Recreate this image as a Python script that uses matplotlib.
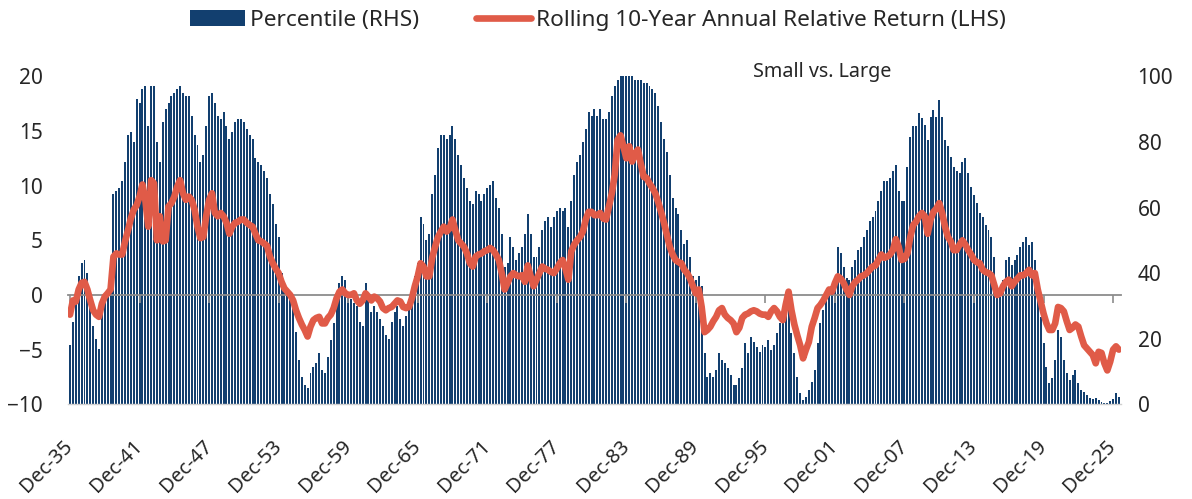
import numpy as np
import matplotlib
matplotlib.use("Agg")
import matplotlib.pyplot as plt
from matplotlib.lines import Line2D
from matplotlib.patches import Patch

plt.rcParams['font.family'] = ['Noto Sans', 'DejaVu Sans']

# ---------------- data (quarterly readings, Dec-35 .. Jun-26) ----------------
start_year = 1935 + 11 / 12   # Dec-1935
step_years = 0.25

rel_return = [
    -1.8,
    -0.5, -0.6, 0.5, 1.1,      # 1936
    1.2, 0.5, -0.5, -1.4,      # 1937
    -1.8, -2.0, -0.8, -0.15,   # 1938
    0.15, 0.5, 3.5, 3.8,       # 1939
    3.7, 3.7, 4.9, 5.9,        # 1940
    7.0, 7.8, 8.2, 9.0,        # 1941
    10.1, 8.7, 6.25, 10.5,     # 1942
    10.2, 5.0, 7.2, 4.9,       # 1943
    5.0, 8.1, 8.4, 9.0,        # 1944
    9.9, 10.5, 9.3, 8.7,       # 1945
    9.0, 8.7, 7.8, 6.25,       # 1946
    5.2, 5.3, 7.2, 8.7,        # 1947
    9.3, 7.5, 7.2, 7.5,        # 1948
    7.2, 6.6, 5.6, 6.25,       # 1949
    6.6, 6.7, 6.9, 6.9,        # 1950
    6.6, 6.4, 6.25, 5.6,       # 1951
    5.0, 4.9, 4.7, 4.5,        # 1952
    3.5, 2.9, 2.4, 2.0,        # 1953
    1.2, 0.6, 0.3, 0.0,        # 1954
    -0.5, -1.4, -2.1, -2.7,    # 1955
    -3.2, -3.8, -2.9, -2.3,    # 1956
    -2.1, -2.0, -2.6, -2.6,    # 1957
    -2.1, -1.8, -1.2, -0.3,    # 1958
    0.3, 0.5, 0.15, 0.0,       # 1959
    0.0, 0.15, -0.5, -0.8,     # 1960
    -0.5, 0.15, -0.15, -0.5,   # 1961
    -0.15, -0.3, -0.6, -1.2,   # 1962
    -1.4, -1.2, -1.1, -0.8,    # 1963
    -0.5, -0.6, -1.1, -1.2,    # 1964
    -1.1, -0.3, 0.8, 1.7,      # 1965
    2.9, 2.6, 1.7, 1.7,        # 1966
    3.4, 4.4, 5.3, 5.8,        # 1967
    6.25, 5.8, 6.1, 6.9,       # 1968
    5.9, 5.0, 4.7, 4.4,        # 1969
    3.8, 2.9, 2.6, 3.5,        # 1970
    3.7, 3.8, 4.0, 4.1,        # 1971
    4.3, 4.1, 3.7, 3.2,        # 1972
    2.0, 0.5, 1.1, 1.7,        # 1973
    2.0, 1.8, 1.7, 1.8,        # 1974
    1.2, 2.7, 1.7, 0.8,        # 1975
    1.4, 2.0, 2.6, 2.4,        # 1976
    2.3, 2.1, 2.0, 2.4,        # 1977
    2.9, 3.2, 2.4, 1.4,        # 1978
    4.0, 4.6, 5.0, 5.3,        # 1979
    5.8, 6.9, 7.6, 7.6,        # 1980
    7.3, 7.3, 7.5, 7.0,        # 1981
    6.9, 8.1, 9.3, 11.0,       # 1982
    14.2, 14.6, 13.6, 12.5,    # 1983
    13.6, 12.2, 12.9, 13.3,    # 1984
    12.0, 10.8, 10.7, 10.2,    # 1985
    9.8, 9.3, 8.5, 7.6,        # 1986
    6.6, 5.5, 4.4, 3.7,        # 1987
    3.2, 3.0, 2.9, 2.3,        # 1988
    2.0, 1.5, 0.8, 0.15,       # 1989
    0.5, -1.1, -3.4, -3.2,     # 1990
    -2.9, -2.4, -2.0, -1.4,    # 1991
    -1.2, -1.8, -2.1, -2.3,    # 1992
    -2.6, -3.4, -3.0, -2.1,    # 1993
    -1.8, -1.7, -1.5, -1.4,    # 1994
    -1.5, -1.7, -1.8, -1.8,    # 1995
    -2.0, -1.5, -1.2, -1.5,    # 1996
    -2.0, -2.3, -0.9, 0.3,     # 1997
    -1.4, -2.7, -3.7, -4.6,    # 1998
    -5.8, -5.0, -4.3, -2.9,    # 1999
    -2.1, -1.2, -0.9, -0.5,    # 2000
    0.0, 0.5, 0.3, 1.1,        # 2001
    1.7, 1.5, 1.1, 0.5,        # 2002
    0.0, 0.8, 1.2, 1.4,        # 2003
    1.7, 1.8, 2.0, 2.3,        # 2004
    2.6, 2.7, 3.2, 3.7,        # 2005
    3.4, 3.5, 3.7, 4.1,        # 2006
    5.1, 4.4, 3.2, 3.3,        # 2007
    3.8, 5.3, 6.4, 6.7,        # 2008
    7.2, 7.5, 7.2, 5.6,        # 2009
    6.9, 7.6, 7.9, 8.4,        # 2010
    7.5, 6.25, 5.3, 4.9,       # 2011
    4.1, 4.1, 4.6, 5.0,        # 2012
    4.6, 4.1, 3.7, 3.2,        # 2013
    3.0, 2.9, 2.3, 2.1,        # 2014
    2.0, 1.8, 0.9, 0.0,        # 2015
    0.15, 0.8, 1.2, 1.4,       # 2016
    0.8, 1.2, 1.5, 1.8,        # 2017
    1.8, 2.0, 2.3, 1.8,        # 2018
    2.0, 0.5, -0.6, -1.7,      # 2019
    -2.6, -3.2, -3.2, -2.6,    # 2020
    -1.1, -1.2, -1.5, -2.4,    # 2021
    -3.2, -3.0, -2.7, -2.9,    # 2022
    -3.8, -4.6, -4.9, -5.2,    # 2023
    -5.5, -6.25, -5.2, -5.3,   # 2024
    -6.25, -6.9, -6.1, -5.0,   # 2025
    -4.7, -5.0,                # 2026
]

percentile = [
    18,
    25, 32, 39, 43,            # 1936
    44, 40, 32, 24,            # 1937
    20, 17, 28, 32,            # 1938
    33, 34, 64, 65,            # 1939
    66, 68, 74, 82,            # 1940
    83, 80, 93, 92,            # 1941
    96, 97, 85, 97,            # 1942
    97, 80, 74, 86,            # 1943
    90, 92, 94, 95,            # 1944
    96, 97, 95, 94,            # 1945
    94, 88, 82, 79,            # 1946
    74, 76, 85, 94,            # 1947
    95, 92, 88, 87,            # 1948
    89, 85, 81, 83,            # 1949
    86, 87, 87, 86,            # 1950
    84, 82, 81, 75,            # 1951
    74, 73, 71, 69,            # 1952
    64, 61, 55, 51,            # 1953
    40, 36, 34, 32,            # 1954
    30, 22, 13.5, 8.4,         # 1955
    6, 5, 9.5, 11.5,           # 1956
    12.5, 15.5, 10.5, 9.5,     # 1957
    14.5, 19.6, 24.7, 33.8,    # 1958
    37, 39, 38, 34,            # 1959
    32, 31, 30, 25,            # 1960
    24, 37, 32, 28,            # 1961
    30, 28, 26, 24,            # 1962
    21, 20, 25, 28,            # 1963
    30, 26, 24, 27,            # 1964
    30, 32, 39, 43,            # 1965
    57, 55, 50, 52,            # 1966
    64, 70, 78, 82,            # 1967
    82, 81, 82, 85,            # 1968
    81, 76, 73, 69,            # 1969
    66, 62, 61, 65,            # 1970
    64, 62, 64, 66,            # 1971
    67, 68, 63, 60,            # 1972
    52, 42, 43, 51,            # 1973
    48, 44, 46, 48,            # 1974
    52, 58, 52, 45,            # 1975
    45, 48, 53, 56,            # 1976
    57, 54, 57, 59,            # 1977
    60, 59, 60, 54,            # 1978
    62, 70, 74, 76,            # 1979
    80, 84, 89, 88,            # 1980
    90, 88, 90, 87,            # 1981
    87, 89, 94, 97,            # 1982
    99, 100, 100, 100,         # 1983
    100, 100, 99, 99,          # 1984
    99, 98, 98, 97,            # 1985
    96, 95, 91, 86,            # 1986
    81, 77, 70, 63,            # 1987
    60, 58, 53, 49,            # 1988
    50, 45, 39, 38,            # 1989
    39, 36, 15.5, 8.4,         # 1990
    9.5, 8.4, 10.5, 15.5,      # 1991
    13.5, 12.5, 11, 9,         # 1992
    6, 6, 8, 11,               # 1993
    18.6, 15.5, 20.6, 19,      # 1994
    17.6, 16, 18, 17.6,        # 1995
    19.6, 16.6, 18, 21.6,      # 1996
    24.7, 27.7, 32.8, 35,      # 1997
    21.6, 15.5, 8.4, 3.4,      # 1998
    1.3, 2.3, 4.4, 6.9,        # 1999
    10.5, 18.6, 24.7, 28.8,    # 2000
    31.8, 33.8, 35.9, 37.9,    # 2001
    48, 46, 42, 38.4,          # 2002
    38, 42, 44, 47,            # 2003
    48, 51, 53, 56,            # 2004
    57, 59, 62, 65,            # 2005
    68, 68, 69, 71,            # 2006
    73, 65, 62, 62,            # 2007
    72.5, 81.6, 84.7, 84.7,    # 2008
    88.7, 87.2, 85.2, 80.6,    # 2009
    87.7, 89.7, 87.7, 92.8,    # 2010
    87.7, 80.6, 78.6, 75.5,    # 2011
    72.5, 71, 70.4, 74,        # 2012
    75, 70.4, 66.4, 63.8,      # 2013
    61.3, 58.2, 57.2, 54.7,    # 2014
    53.2, 51.1, 45, 33.8,      # 2015
    32.8, 37.9, 44, 45,        # 2016
    42.5, 44, 45.5, 48,        # 2017
    49.6, 51.1, 48.6, 49.6,    # 2018
    44, 33.8, 26.7, 18.6,      # 2019
    11.5, 6.4, 7.9, 13.5,      # 2020
    22.7, 20.6, 13.5, 9.5,     # 2021
    7.4, 8.9, 10.5, 6.4,       # 2022
    4.4, 3.9, 2.8, 1.8,        # 2023
    1.5, 1.8, 1.3, 0.8,        # 2024
    0.3, 0.5, 1.1, 1.5,        # 2025
    3.4, 2.3,                  # 2026
]

tick_labels = ['Dec-35', 'Dec-41', 'Dec-47', 'Dec-53', 'Dec-59', 'Dec-65',
               'Dec-71', 'Dec-77', 'Dec-83', 'Dec-89', 'Dec-95', 'Dec-01',
               'Dec-07', 'Dec-13', 'Dec-19', 'Dec-25']
tick_step_years = 6

left_ticks = [-10, -5, 0, 5, 10, 15, 20]
right_ticks = [0, 20, 40, 60, 80, 100]

series_labels = ['Percentile (RHS)', 'Rolling 10-Year Annual Relative Return (LHS)']
subtitle = 'Small vs. Large'

# ---------------- styling ----------------
NAVY = '#123f6f'
RED = '#e05b48'
GRID_GREY = '#8c8c8c'
TEXT = '#262626'

dates = start_year + step_years * np.arange(len(rel_return))
tick_pos = start_year + tick_step_years * np.arange(len(tick_labels))

W, H = 1192, 499
fig = plt.figure(figsize=(W / 100, H / 100), dpi=100)
ax = fig.add_axes([68 / W, (H - 404.3) / H, 1053 / W, 328 / H])
ax2 = ax.twinx()
ax.set_zorder(ax2.get_zorder() + 1)
ax.patch.set_visible(False)

# bars (percentile, right axis)
ax2.bar(dates, percentile, width=0.17, color=NAVY, linewidth=0, align='center')
ax2.set_ylim(0, 100)
ax2.set_yticks(right_ticks)
ax2.tick_params(axis='y', length=0, pad=12, labelsize=15, labelcolor=TEXT)

# line (relative return, left axis)
ax.plot(dates, rel_return, color=RED, lw=4.8, solid_joinstyle='round',
        solid_capstyle='round', zorder=3)
ax.set_ylim(-10, 20)
ax.set_xlim(start_year - 2 / 11.59, start_year + 1051 / 11.59)
ax.set_yticks(left_ticks)
ax.tick_params(axis='y', length=0, pad=18, labelsize=15, labelcolor=TEXT)

for s in ['top', 'left', 'right']:
    ax.spines[s].set_visible(False)
    ax2.spines[s].set_visible(False)
ax.spines['bottom'].set_position(('data', 0))
ax.spines['bottom'].set_color(GRID_GREY)
ax.spines['bottom'].set_linewidth(1.3)
ax2.spines['bottom'].set_color('#d0d0d0')
ax2.spines['bottom'].set_linewidth(1.0)

ax.set_xticks(tick_pos)
ax.set_xticklabels(tick_labels, rotation=45, ha='right', va='center',
                   rotation_mode='anchor')
ax.tick_params(axis='x', direction='out', length=6, width=1.2, color=GRID_GREY,
               pad=101, labelsize=14.5, labelcolor=TEXT)

ax.text(0.716, 1.013, subtitle, transform=ax.transAxes, ha='center',
        va='center', fontsize=14.2, color=TEXT)

handles = [Patch(facecolor=NAVY, edgecolor='none'),
           Line2D([], [], color=RED, lw=4.8, solid_capstyle='round')]
fig.legend(handles, series_labels, loc='center', bbox_to_anchor=(0.5017, 0.959),
           ncol=2, frameon=False, fontsize=16.3, handlelength=2.45,
           handletextpad=0.22, columnspacing=2.5, handleheight=0.68,
           labelcolor=TEXT)

fig.savefig('out.png', dpi=100)
